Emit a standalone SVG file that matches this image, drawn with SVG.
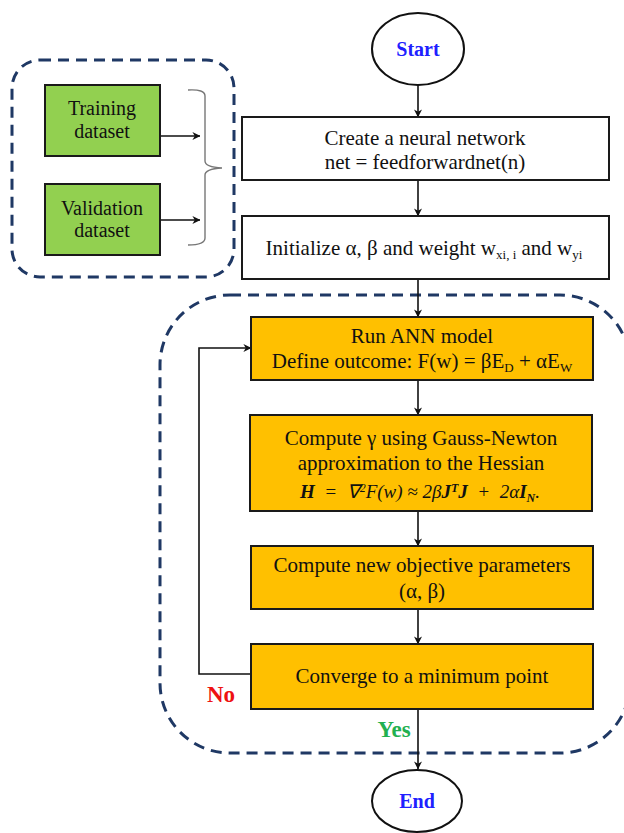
<svg xmlns="http://www.w3.org/2000/svg" width="624" height="833" viewBox="0 0 624 833">
<style>
text{font-family:"Liberation Serif","Times New Roman",serif;font-size:21px;fill:#111;text-anchor:middle}
.box{stroke:#1a1a1a;stroke-width:2}
.w{fill:#fff}.g{fill:#92d050}.o{fill:#ffc000}
.gt{font-size:20px}
.dash{fill:none;stroke:#1f3864;stroke-width:3;stroke-dasharray:11 7}
.c{fill:none;stroke:#111;stroke-width:1.6}
.term{fill:#fff;stroke:#111;stroke-width:2}
.tt{font-weight:bold;fill:#2020ff;font-size:20px}
</style>
<defs>
<marker id="ah" viewBox="0 0 10 10" refX="9.5" refY="5" markerWidth="8" markerHeight="8" markerUnits="userSpaceOnUse" orient="auto">
<path d="M0,0 L10,5 L0,10 L3,5 Z" fill="#111"/>
</marker>
</defs>
<rect class="dash" x="12" y="60" width="222" height="217" rx="28"/>
<rect class="dash" x="160" y="295" width="470" height="458" rx="70"/>
<g id="connectors">
<line class="c" x1="418" y1="85" x2="418" y2="117" marker-end="url(#ah)"/>
<line class="c" x1="418" y1="180" x2="418" y2="216" marker-end="url(#ah)"/>
<line class="c" x1="418" y1="279" x2="418" y2="317" marker-end="url(#ah)"/>
<line class="c" x1="418" y1="380" x2="418" y2="415" marker-end="url(#ah)"/>
<line class="c" x1="418" y1="511" x2="418" y2="546" marker-end="url(#ah)"/>
<line class="c" x1="418" y1="609" x2="418" y2="644" marker-end="url(#ah)"/>
<line class="c" x1="418" y1="709" x2="418" y2="769" marker-end="url(#ah)"/>
<polyline class="c" points="251,674 199,674 199,348 251,348" marker-end="url(#ah)"/>
<line class="c" x1="160" y1="136" x2="200" y2="136" marker-end="url(#ah)"/>
<line class="c" x1="160" y1="220" x2="200" y2="220" marker-end="url(#ah)"/>
<path d="M188,90 Q205,89 205,96 L205,161 Q205,167 222,168 Q205,169 205,175 L205,238 Q205,245 188,245" fill="none" stroke="#777" stroke-width="1.4"/>
<text x="221" y="702" style="fill:#ee1111;font-weight:bold;font-size:23px">No</text>
<text x="394" y="737" style="fill:#22b050;font-weight:bold;font-size:23px">Yes</text>
</g>
<g id="start">
<ellipse class="term" cx="418" cy="49" rx="46" ry="36"/>
<text class="tt" x="418" y="56">Start</text>
</g>
<g id="training">
<rect class="box g" x="45" y="85" width="115" height="71"/>
<text class="gt" x="102" y="115">Training</text>
<text class="gt" x="102" y="138">dataset</text>
</g>
<g id="validation">
<rect class="box g" x="45" y="184" width="115" height="71"/>
<text class="gt" x="102" y="215">Validation</text>
<text class="gt" x="102" y="237">dataset</text>
</g>
<g id="create">
<rect class="box w" x="242" y="117" width="367" height="63"/>
<text x="425" y="145">Create a neural network</text>
<text x="425" y="169">net = feedforwardnet(n)</text>
</g>
<g id="init">
<rect class="box w" x="242" y="216" width="367" height="63"/>
<text x="424" y="255">Initialize α, β and weight w<tspan font-size="13" dy="4">xi, i</tspan><tspan dy="-4"> and w</tspan><tspan font-size="13" dy="4">yi</tspan></text>
</g>
<g id="run">
<rect class="box o" x="251" y="317" width="342" height="63"/>
<text x="422" y="343">Run ANN model</text>
<text x="422" y="368">Define outcome: F(w) = βE<tspan font-size="13" dy="4">D</tspan><tspan dy="-4"> + αE</tspan><tspan font-size="13" dy="4">W</tspan></text>
</g>
<g id="gamma">
<rect class="box o" x="250" y="415" width="342" height="96"/>
<text x="421" y="445">Compute γ using Gauss-Newton</text>
<text x="421" y="470">approximation  to the Hessian</text>
<text x="420" y="498" style="font-style:italic;font-size:19px;white-space:pre"><tspan font-weight="bold">H</tspan>  =  ∇<tspan font-size="12" dy="-6">2</tspan><tspan dy="6">F(w) ≈ 2β</tspan><tspan font-weight="bold">J</tspan><tspan font-size="12" dy="-6" font-weight="bold">T</tspan><tspan dy="6" font-weight="bold">J</tspan>  +  2α<tspan font-weight="bold">I</tspan><tspan font-size="12" dy="4" font-weight="bold">N</tspan><tspan dy="-4">.</tspan></text>
</g>
<g id="newparams">
<rect class="box o" x="251" y="546" width="342" height="63"/>
<text x="422" y="572">Compute new objective parameters</text>
<text x="422" y="598">(α, β)</text>
</g>
<g id="converge">
<rect class="box o" x="251" y="644" width="342" height="65"/>
<text x="422" y="683">Converge to a minimum point</text>
</g>
<g id="end">
<ellipse class="term" cx="417" cy="801" rx="45" ry="31"/>
<text class="tt" x="417" y="808">End</text>
</g>
</svg>
